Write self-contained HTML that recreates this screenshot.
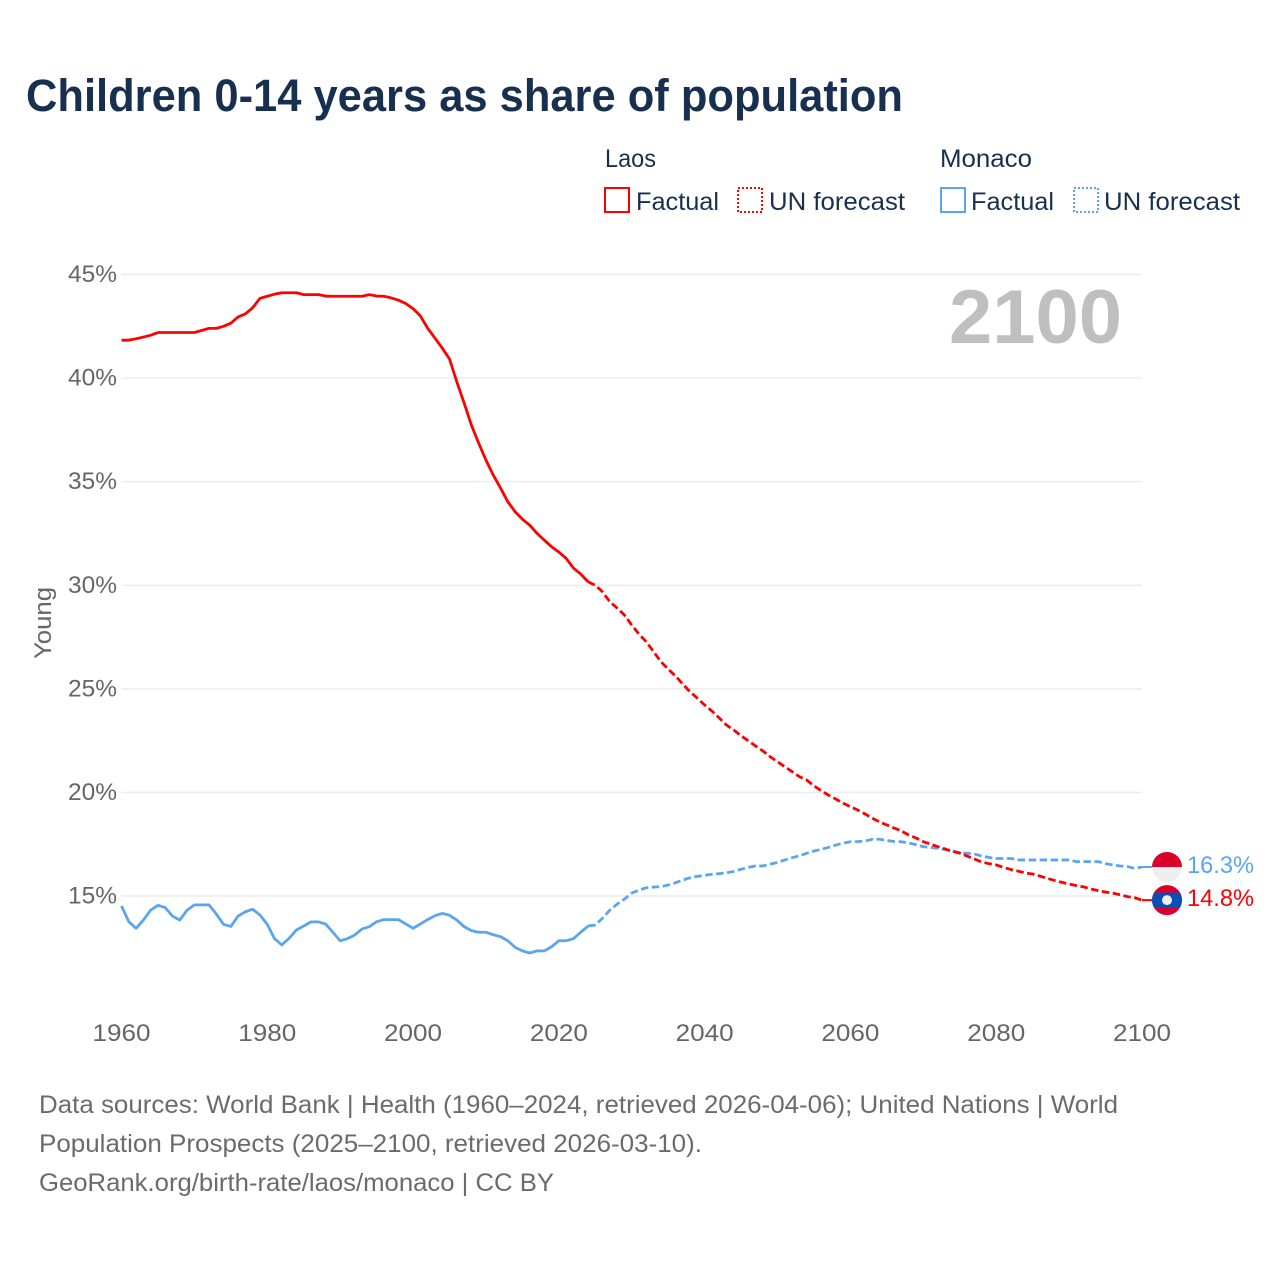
<!DOCTYPE html>
<html lang="en">
<head>
<meta charset="utf-8">
<title>Children 0-14 years as share of population</title>
<style>
html,body{margin:0;padding:0;background:#fff;}
svg{display:block;font-family:"Liberation Sans",sans-serif;}
</style>
</head>
<body>
<svg id="chart" xmlns="http://www.w3.org/2000/svg" width="1280" height="1280" viewBox="0 0 1280 1280">
  <rect width="1280" height="1280" fill="#ffffff"/>
  <text x="26" y="111" font-size="45" font-weight="700" fill="#18304f" textLength="877" lengthAdjust="spacingAndGlyphs">Children 0-14 years as share of population</text>

  <g font-size="25" fill="#18304f">
    <text x="605" y="167" textLength="51" lengthAdjust="spacingAndGlyphs">Laos</text>
    <rect x="605" y="188" width="24" height="24" fill="none" stroke="#ff0000" stroke-width="2"/>
    <text x="636" y="210" textLength="83" lengthAdjust="spacingAndGlyphs">Factual</text>
    <rect x="738" y="188" width="24" height="24" fill="none" stroke="#ff0000" stroke-width="2" stroke-dasharray="2 2"/>
    <text x="769" y="210" textLength="136" lengthAdjust="spacingAndGlyphs">UN forecast</text>
    <text x="940" y="167" textLength="92" lengthAdjust="spacingAndGlyphs">Monaco</text>
    <rect x="941" y="188" width="24" height="24" fill="none" stroke="#5ba5ee" stroke-width="2"/>
    <text x="971" y="210" textLength="83" lengthAdjust="spacingAndGlyphs">Factual</text>
    <rect x="1074" y="188" width="24" height="24" fill="none" stroke="#5ba5ee" stroke-width="2" stroke-dasharray="2 2"/>
    <text x="1104" y="210" textLength="136" lengthAdjust="spacingAndGlyphs">UN forecast</text>
  </g>

  <g id="grid"></g>
  <text x="949" y="343" font-size="76" font-weight="700" fill="#bfbfbf" textLength="173" lengthAdjust="spacingAndGlyphs">2100</text>
  <g id="yticks" font-size="24" fill="#666666"></g>
  <g id="xticks" font-size="24" fill="#666666"></g>
  <text transform="translate(51,659) rotate(-90)" font-size="24" fill="#666666" textLength="72" lengthAdjust="spacingAndGlyphs">Young</text>

  <g id="series"></g>
  <g id="ends"></g>

  <g font-size="25" fill="#6b6b6b">
    <text x="39" y="1113" textLength="1079" lengthAdjust="spacingAndGlyphs">Data sources: World Bank | Health (1960–2024, retrieved 2026-04-06); United Nations | World</text>
    <text x="39" y="1152" textLength="663" lengthAdjust="spacingAndGlyphs">Population Prospects (2025–2100, retrieved 2026-03-10).</text>
    <text x="39" y="1191" textLength="515" lengthAdjust="spacingAndGlyphs">GeoRank.org/birth-rate/laos/monaco | CC BY</text>
  </g>
</svg>
<script>
const factualStartYear = 1960;
const forecastStartYear = 2025;
const xTickYears = [1960, 1980, 2000, 2020, 2040, 2060, 2080, 2100];
const xTickLabels = ['1960', '1980', '2000', '2020', '2040', '2060', '2080', '2100'];
const yTickValues = [15, 20, 25, 30, 35, 40, 45];
const yTickLabels = ['15%', '20%', '25%', '30%', '35%', '40%', '45%'];
const laosFactual = [41.83,41.83,41.9,41.98,42.07,42.2,42.2,42.2,42.2,42.2,42.2,42.3,42.4,42.4,42.5,42.65,42.95,43.1,43.4,43.85,43.95,44.05,44.12,44.12,44.12,44.03,44.03,44.03,43.96,43.95,43.95,43.95,43.95,43.95,44.03,43.96,43.95,43.87,43.76,43.6,43.35,43.0,42.41,41.93,41.45,40.92,39.82,38.8,37.73,36.86,36.04,35.32,34.69,34.03,33.55,33.19,32.9,32.51,32.18,31.86,31.6,31.3,30.83,30.54,30.17];
const laosForecast = [30.0,29.68,29.2,28.9,28.56,28.08,27.64,27.27,26.79,26.31,25.95,25.62,25.23,24.85,24.55,24.22,23.93,23.6,23.25,23.01,22.73,22.49,22.24,22.0,21.72,21.48,21.24,21.0,20.76,20.6,20.32,20.08,19.87,19.68,19.48,19.31,19.15,18.96,18.76,18.57,18.43,18.28,18.14,17.94,17.8,17.62,17.5,17.38,17.27,17.15,17.07,16.93,16.79,16.64,16.56,16.5,16.38,16.28,16.2,16.11,16.06,15.96,15.85,15.75,15.66,15.58,15.5,15.44,15.34,15.26,15.19,15.14,15.06,14.97,14.92,14.8];
const monacoFactual = [14.52,13.76,13.44,13.84,14.32,14.55,14.44,14.03,13.84,14.32,14.57,14.57,14.57,14.13,13.63,13.53,14.03,14.24,14.36,14.08,13.63,12.94,12.64,12.96,13.36,13.55,13.75,13.75,13.65,13.25,12.84,12.94,13.12,13.41,13.52,13.76,13.86,13.86,13.86,13.65,13.44,13.65,13.86,14.05,14.16,14.07,13.84,13.52,13.33,13.25,13.25,13.13,13.04,12.84,12.52,12.35,12.25,12.35,12.35,12.55,12.84,12.84,12.94,13.25,13.55];
const monacoForecast = [13.6,13.93,14.32,14.61,14.85,15.14,15.29,15.4,15.43,15.45,15.53,15.64,15.77,15.88,15.95,16.0,16.05,16.08,16.12,16.19,16.29,16.38,16.45,16.45,16.54,16.62,16.74,16.85,16.94,17.06,17.17,17.25,17.35,17.46,17.55,17.62,17.63,17.65,17.74,17.74,17.68,17.63,17.62,17.56,17.48,17.38,17.34,17.3,17.24,17.17,17.09,17.06,17.03,16.93,16.86,16.81,16.81,16.81,16.74,16.74,16.74,16.74,16.74,16.74,16.74,16.74,16.66,16.66,16.66,16.66,16.56,16.5,16.45,16.42,16.33,16.4];
const endLabels = ['16.3%', '14.8%'];

const NS = 'http://www.w3.org/2000/svg';
const RED = '#ff0000';
const BLUE = '#5ba5ee';
const LINE_W = 2.8;
const DASH = '7.5 3.5';
function xScale(year) { return 121.5 + (year - 1960) * (1142 - 121.5) / 140; }
function yScale(v) { return 896 - (v - 15) * (896 - 274.5) / 30; }
function make(tag, attrs) {
  const el = document.createElementNS(NS, tag);
  for (const k in attrs) el.setAttribute(k, attrs[k]);
  return el;
}
function pathFrom(startYear, values, leadYear, leadValue) {
  const pts = [];
  if (leadYear !== null) pts.push([xScale(leadYear), yScale(leadValue)]);
  values.forEach(function (v, i) { pts.push([xScale(startYear + i), yScale(v)]); });
  return 'M' + pts.map(function (p) { return p[0].toFixed(2) + ' ' + p[1].toFixed(2); }).join('L');
}

const grid = document.getElementById('grid');
const yticks = document.getElementById('yticks');
yTickValues.forEach(function (v, i) {
  const line = make('line', { x1: 121.5, x2: 1142, y1: yScale(v), y2: yScale(v), stroke: '#ececec', 'stroke-width': 1.5 });
  
  
  grid.appendChild(line);
  const t = make('text', { x: 68, y: yScale(v) + 7.5, textLength: 49, lengthAdjust: 'spacingAndGlyphs' });
  
  
  t.textContent = yTickLabels[i];
  yticks.appendChild(t);
});

const xticks = document.getElementById('xticks');
xTickYears.forEach(function (yr, i) {
  const t = make('text', { x: xScale(yr) - 29, y: 1041, textLength: 58, lengthAdjust: 'spacingAndGlyphs' });
  
  
  t.textContent = xTickLabels[i];
  xticks.appendChild(t);
});

const series = document.getElementById('series');
const monacoFactualPath = make('path', { d: pathFrom(factualStartYear, monacoFactual, null, 0), fill: 'none', stroke: BLUE, 'stroke-width': LINE_W, 'stroke-linejoin': 'round' });


series.appendChild(monacoFactualPath);
const monacoForecastPath = make('path', { d: pathFrom(forecastStartYear, monacoForecast, 2024, monacoFactual[monacoFactual.length - 1]), fill: 'none', stroke: BLUE, 'stroke-width': LINE_W, 'stroke-dasharray': DASH });


series.appendChild(monacoForecastPath);
const laosFactualPath = make('path', { d: pathFrom(factualStartYear, laosFactual, null, 0), fill: 'none', stroke: RED, 'stroke-width': LINE_W, 'stroke-linejoin': 'round' });


series.appendChild(laosFactualPath);
const laosForecastPath = make('path', { d: pathFrom(forecastStartYear, laosForecast, 2024, laosFactual[laosFactual.length - 1]), fill: 'none', stroke: RED, 'stroke-width': LINE_W, 'stroke-dasharray': DASH });


series.appendChild(laosForecastPath);

const ends = document.getElementById('ends');
const flagX = 1167;
const monacoY = yScale(monacoForecast[monacoForecast.length - 1]);
const laosY = yScale(laosForecast[laosForecast.length - 1]);
const R = 15;

const monacoLead = make('line', { x1: 1142, x2: flagX - R, y1: monacoY, y2: monacoY, stroke: BLUE, 'stroke-width': 2 });


ends.appendChild(monacoLead);
const laosLead = make('line', { x1: 1142, x2: flagX - R, y1: laosY, y2: laosY, stroke: RED, 'stroke-width': 2 });


ends.appendChild(laosLead);

const monacoFlag = make('g', { transform: 'translate(' + flagX + ',' + monacoY + ')' });


monacoFlag.appendChild(make('circle', { r: R, fill: '#eeeeee' }));
monacoFlag.appendChild(make('path', { d: 'M' + (-R) + ' 0A' + R + ' ' + R + ' 0 0 1 ' + R + ' 0Z', fill: '#d9002b' }));
ends.appendChild(monacoFlag);

const laosFlag = make('g', { transform: 'translate(' + flagX + ',' + laosY + ')' });


laosFlag.appendChild(make('circle', { r: R, fill: '#d9002b' }));
const clip = make('clipPath', { id: 'laos-clip' });
clip.appendChild(make('circle', { r: R }));
laosFlag.appendChild(clip);
laosFlag.appendChild(make('rect', { x: -R, y: -7.5, width: 2 * R, height: 15, fill: '#0a50b4', 'clip-path': 'url(#laos-clip)' }));
laosFlag.appendChild(make('circle', { r: 5, fill: '#eeeeee' }));
ends.appendChild(laosFlag);

const monacoLabel = make('text', { x: 1187, y: monacoY + 6, 'font-size': 24, fill: BLUE, textLength: 67, lengthAdjust: 'spacingAndGlyphs' });


monacoLabel.textContent = endLabels[0];
ends.appendChild(monacoLabel);
const laosLabel = make('text', { x: 1187, y: laosY + 6, 'font-size': 24, fill: RED, textLength: 67, lengthAdjust: 'spacingAndGlyphs' });


laosLabel.textContent = endLabels[1];
ends.appendChild(laosLabel);
</script>
</body>
</html>
